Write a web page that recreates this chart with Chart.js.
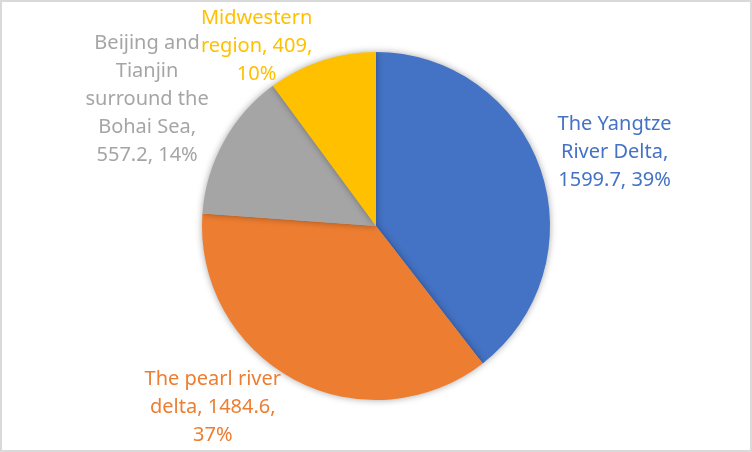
<!DOCTYPE html>
<html>
<head>
<meta charset="utf-8">
<script src="https://cdn.jsdelivr.net/npm/chart.js@4"></script>
<style>
html,body{margin:0;padding:0;background:#fff;}
#wrap{width:752px;height:452px;box-sizing:border-box;border:2px solid #d9d9d9;background:#fff;}
canvas{display:block;}
</style>
</head>
<body>
<div id="wrap"><canvas id="c" width="748" height="448"></canvas></div>
<script>
const categories = ["The Yangtze River Delta", "The pearl river delta", "Beijing and Tianjin surround the Bohai Sea", "Midwestern region"];
const values = [1599.7, 1484.6, 557.2, 409];
const percents = ["39%", "37%", "14%", "10%"];
const labelLines = [
  ["The Yangtze", "River Delta,", "1599.7, 39%"],
  ["The pearl river", "delta, 1484.6,", "37%"],
  ["Beijing and", "Tianjin", "surround the", "Bohai Sea,", "557.2, 14%"],
  ["Midwestern", "region, 409,", "10%"]
];
const colors = ["#4472C4", "#ED7D31", "#A5A5A5", "#FFC000"];

// label placement: distance beyond the arc along its mid-angle, plus a small nudge
const labelPlace = [
  {dist: 74, nx: 4, ny: 7},
  {dist: 68, nx: -49, ny: -32},
  {dist: 84, nx: -3, ny: -2},
  {dist: 42, nx: -52, ny: 26}
];

const shadowPlugin = {
  id: 'pieShadow',
  beforeDatasetDraw(chart) {
    const ctx = chart.ctx;
    ctx.save();
    ctx.shadowColor = 'rgba(0,0,0,0.35)';
    ctx.shadowBlur = 7;
    ctx.shadowOffsetX = 0;
    ctx.shadowOffsetY = 0;
  },
  afterDatasetDraw(chart) {
    chart.ctx.restore();
  }
};

const labelPlugin = {
  id: 'outLabels',
  afterDatasetsDraw(chart) {
    const ctx = chart.ctx;
    const meta = chart.getDatasetMeta(0);
    ctx.save();
    ctx.font = '20px "Noto Sans", sans-serif';
    ctx.textAlign = 'center';
    ctx.textBaseline = 'middle';
    const lh = 28;
    meta.data.forEach((arc, i) => {
      const p = arc.getProps(['x','y','startAngle','endAngle','outerRadius'], true);
      const mid = (p.startAngle + p.endAngle) / 2;
      const pl = labelPlace[i];
      const r = p.outerRadius + pl.dist;
      const cx = p.x + Math.cos(mid) * r + pl.nx;
      const cy = p.y + Math.sin(mid) * r + pl.ny;
      const lines = labelLines[i];
      ctx.fillStyle = colors[i];
      const top = cy - (lines.length - 1) * lh / 2;
      lines.forEach((ln, k) => ctx.fillText(ln, cx, top + k * lh));
    });
    ctx.restore();
  }
};

new Chart(document.getElementById('c'), {
  type: 'pie',
  data: {
    labels: categories,
    datasets: [{
      data: values,
      backgroundColor: colors,
      borderWidth: 0
    }]
  },
  options: {
    responsive: false,
    animation: false,
    layout: {padding: {top: 50, bottom: 50, left: 0, right: 0}},
    plugins: {legend: {display: false}, tooltip: {enabled: false}}
  },
  plugins: [shadowPlugin, labelPlugin]
});
</script>
</body>
</html>
